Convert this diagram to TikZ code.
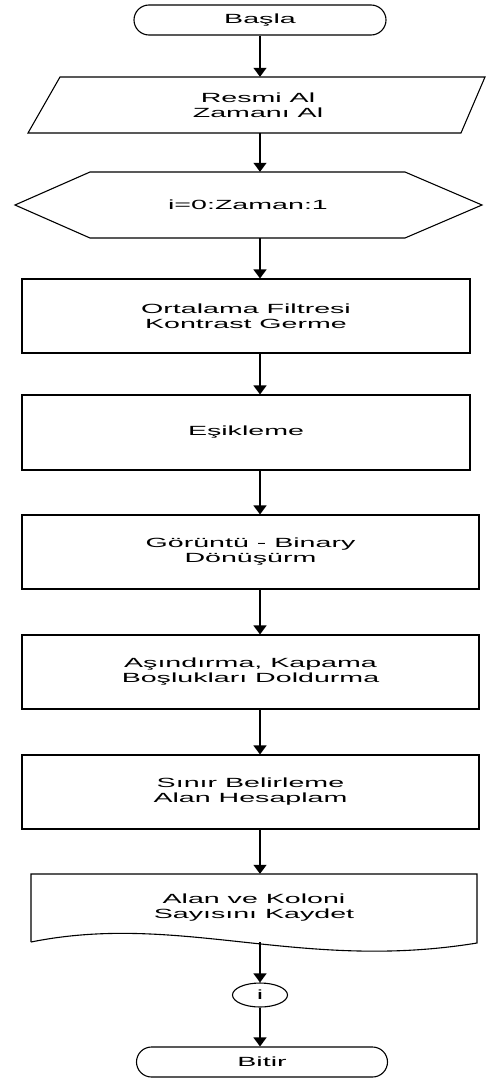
\documentclass[tikz,border=0pt]{standalone}
\usepackage{fontspec}
\setmainfont{Liberation Sans}[FakeStretch=2.15]
\usetikzlibrary{arrows.meta,shapes.geometric}
\begin{document}
\begin{tikzpicture}[x=1pt,y=-1pt,
  txt/.style={align=center,inner sep=0pt,font=\fontsize{13.3}{15}\selectfont},
  term/.style={txt,draw,line width=1.1pt,rounded corners=15pt,minimum width=252pt,minimum height=30pt},
  procbox/.style={txt,draw,line width=1.1pt,minimum height=74pt},
  outline/.style={line width=1.1pt,line join=miter},
  arr/.style={line width=1.5pt,-{Triangle[width=13pt,length=9pt]}}]
\useasboundingbox (0,0) rectangle (487,1081);
\coordinate (ax) at (260,0);
% start
\node[term] (basla) at (260,20) {Başla};
% input (parallelogram)
\draw[outline] (60,77) -- (485,77) -- (461,133) -- (28,133) -- cycle;
\node[txt,minimum height=56pt] (resmi) at (258,105) {Resmi Al\\Zamanı Al};
% loop (hexagon)
\draw[outline] (15,205) -- (90,172) -- (405,172) -- (482,205) -- (405,238) -- (90,238) -- cycle;
\node[txt,minimum height=66pt] (dongu) at (248,205) {i=0:Zaman:1};
% process boxes
\node[procbox,minimum width=448pt] (b1) at (246,316) {Ortalama Filtresi\\Kontrast Germe};
\node[procbox,minimum width=448pt,minimum height=75pt] (b2) at (246,432.5) {Eşikleme};
\node[procbox,minimum width=457pt] (b3) at (250.5,552) {Görüntü - Binary\\Dönüşürm};
\node[procbox,minimum width=457pt] (b4) at (250.5,672) {Aşındırma, Kapama\\Boşlukları Doldurma};
\node[procbox,minimum width=457pt] (b5) at (250.5,792) {Sınır Belirleme\\Alan Hesaplam};
% document
\draw[outline] (31,942) -- (31,874) -- (477,874) -- (477,943)
  .. controls (300,972) and (180,912) .. (31,942);
\node[txt,minimum height=68pt] (kaydet) at (254,908) {Alan ve Koloni\\Sayısını Kaydet};
\coordinate (kb) at (260,942);
% connector
\node[txt,draw,line width=1.1pt,ellipse,minimum width=55pt,minimum height=24pt] (iv) at (260,995) {i};
% end
\node[term,minimum width=251pt] (bitir) at (262,1062) {Bitir};
% arrows
\draw[arr] (basla.south -| ax) -- (resmi.north -| ax);
\draw[arr] (resmi.south -| ax) -- (dongu.north -| ax);
\draw[arr] (dongu.south -| ax) -- (b1.north -| ax);
\draw[arr] (b1.south -| ax) -- (b2.north -| ax);
\draw[arr] (b2.south -| ax) -- (b3.north -| ax);
\draw[arr] (b3.south -| ax) -- (b4.north -| ax);
\draw[arr] (b4.south -| ax) -- (b5.north -| ax);
\draw[arr] (b5.south -| ax) -- (kaydet.north -| ax);
\draw[arr] (kb) -- (iv.north);
\draw[arr] (iv.south) -- (bitir.north -| ax);
\end{tikzpicture}
\end{document}
